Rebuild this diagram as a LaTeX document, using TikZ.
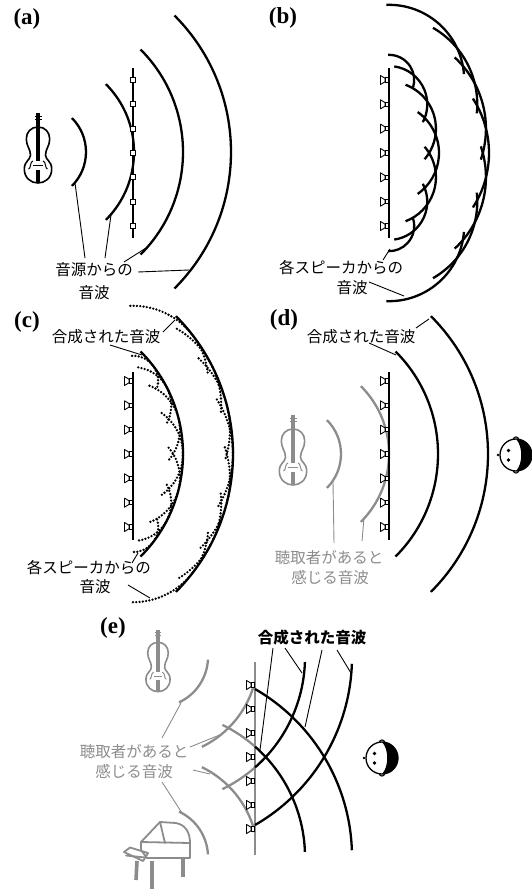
\documentclass[tikz,border=0pt]{standalone}
\usepackage{fontspec}
\setmainfont{Liberation Serif}
\newfontfamily\jpfont{Noto Sans CJK JP}
\definecolor{ghost}{HTML}{8C8C8C}
% a leader line between two named points
\newcommand\leaderline[4][black]{%
  \coordinate (#2-s) at (#3);
  \coordinate (#2-e) at (#4);
  \draw[leader,#1] (#2-s) -- (#2-e);}
% Huygens wavelets of a seven-speaker array fed from a source 95 units behind it;
% the two outermost wavelets run back to the array
\newcommand\wavelets[3]{%
  \foreach \k in {0,...,6}{%
    \pgfmathsetmacro\dy{24.33*(\k-3)}%
    \pgfmathsetmacro\yy{#2+\dy}%
    \pgfmathsetmacro\dst{sqrt(95*95+\dy*\dy)}%
    \pgfmathsetmacro\ph{atan2(\dy,95)}%
    \foreach \R/\del in {145/55,195/33}{%
      \pgfmathsetmacro\rw{\R-\dst}%
      \pgfmathsetmacro\angA{\k==0 ? -92 : \ph-\del}%
      \pgfmathsetmacro\angB{\k==6 ? 92 : \ph+\del}%
      \draw[#3] (#1,\yy) ++(\angA:\rw) arc[start angle=\angA,end angle=\angB,radius=\rw];
    }%
  }%
}
\newcommand\speakers[3][24.33]{%
  \foreach \k in {0,...,6}{\pic at (#2,{#3+#1*(\k-3)}) {spk};}}
\tikzset{
  wave/.style={line width=2.3pt},
  dotwave/.style={line width=2.6pt, line cap=round, dash pattern=on 0pt off 3.3pt},
  leader/.style={line width=0.9pt},
  array/.style={line width=1.1pt},
  tag/.style={font=\bfseries\fontsize{23}{23}\selectfont, inner sep=0pt},
  jp/.style={font=\jpfont\fontsize{15.5}{18}\selectfont, inner sep=0pt},
  jpbold/.style={font=\jpfont\bfseries\fontsize{15.5}{18}\selectfont, inner sep=0pt},
  spk/.pic={
    \draw[line width=0.9pt, line join=round, fill=white]
      (-4,-1.8) -- (-8.5,-4.5) -- (-8.5,4.5) -- (-4,1.8) -- cycle;
    \draw[line width=0.9pt, fill=white] (-1,-2.2) rectangle (-4,2.2);
  },
  mic/.pic={\draw[line width=0.8pt, fill=white] (-2.5,-2.5) rectangle (2.5,2.5);},
  violin/.pic={
    \draw[line width=1.6pt, line join=round]
      (0,-28) .. controls (7,-28) and (11.7,-23) .. (11.7,-16)
      .. controls (11.7,-9) and (7.5,-6) .. (7.5,0)
      .. controls (7.5,5) and (13.7,6) .. (13.7,14)
      .. controls (13.7,23) and (7,28) .. (0,28)
      .. controls (-7,28) and (-13.7,23) .. (-13.7,14)
      .. controls (-13.7,6) and (-7.5,5) .. (-7.5,0)
      .. controls (-7.5,-6) and (-11.7,-9) .. (-11.7,-16)
      .. controls (-11.7,-23) and (-7,-28) .. (0,-28) -- cycle;
    \draw[line width=3.4pt] (0,-42) -- (0,6);
    \draw[line width=3.4pt] (0,15) -- (0,28);
    \draw[line width=1pt] (-3.5,-39) -- (3.5,-39) (-3.5,-35.5) -- (3.5,-35.5);
    \draw[line width=1pt] (-5,10.5) -- (5,10.5);
    \draw[line width=1pt] (-5,6) .. controls (-8,6) and (-7,14) .. (-9.5,14)
                          (5,6) .. controls (8,6) and (7,14) .. (9.5,14);
  },
  head/.pic={
    \draw[line width=1.1pt, fill=white] (-2.6,-15.5) arc[start angle=180,end angle=360,radius=2.6];
    \draw[line width=1.1pt, fill=white] (-2.6,15.5) arc[start angle=180,end angle=0,radius=2.6];
    \draw[line width=1.3pt, fill=white] (0,0) circle[radius=16];
    \fill (0,-16) arc[start angle=-90,end angle=90,radius=16]
      .. controls (7,9) and (7,-9) .. (0,-16);
    \fill (-7.5,-4.5) circle[radius=1.8] (-7.5,5) circle[radius=1.8];
    \fill (-18,0) circle[radius=1.3];
  }
}
\begin{document}
\begin{tikzpicture}[x=1pt,y=-1pt]
\useasboundingbox (0,0) rectangle (532,889);

% ---------------- (a) a violin and its wavefronts crossing a microphone array
\node[tag] (ta) at (27,19) {(a)};
\coordinate (srcA) at (38,152);
\pic at (38,155) {violin};
\foreach \rr in {48,96,145,193}
  \draw[wave] (srcA) ++(-45:\rr) arc[start angle=-45,end angle=45,radius=\rr];
\draw[array] (133,68) -- (133,238);
\foreach \k in {0,...,6} \pic at (133,{153+24.33*(\k-3)}) {mic};
\node[jp] (wa1) at (94,270) {音源からの};
\node[jp] (wa2) at (94,293) {音波};
\leaderline{a1}{85,258}{75,183}
\leaderline{a2}{105,258}{111,215}
\leaderline{a3}{124,262}{146,248}
\leaderline{a4}{138,272}{189,270}

% ---------------- (b) wavelets from each speaker
\node[tag] (tb) at (283,18) {(b)};
\draw[array] (389,68) -- (389,238);
\wavelets{389}{153}{wave}
\speakers{389}{153}
\node[jp] (wb1) at (341,268) {各スピーカからの};
\node[jp] (wb2) at (352,288) {音波};
\leaderline{b1}{383,260}{390,249}
\leaderline{b2}{369,282}{404,296}

% ---------------- (c) wavelets and the synthesised wavefront
\node[tag] (tc) at (27,322) {(c)};
\draw[array] (133,372) -- (133,540);
\wavelets{133}{454}{dotwave}
\coordinate (srcC) at (38,454);
\foreach \rr in {145,195}
  \draw[wave] (srcC) ++(-45:\rr) arc[start angle=-45,end angle=45,radius=\rr];
\speakers{133}{454}
\node[jp] (wc1) at (106,337) {合成された音波};
\leaderline{c1}{163,332}{175,320}
\leaderline{c2}{110,345}{142,355}
\node[jp] (wc2) at (89,568) {各スピーカからの};
\node[jp] (wc3) at (95,587) {音波};
\leaderline{c3}{132,563}{138,553}
\leaderline{c4}{128,585}{150,598}

% ---------------- (d) the listener hears a virtual violin
\node[tag] (td) at (284,320) {(d)};
\coordinate (srcD) at (293,454);
\pic[color=ghost] at (293,457) {violin};
\foreach \rr in {48,96}
  \draw[wave,ghost] (srcD) ++(-45:\rr) arc[start angle=-45,end angle=45,radius=\rr];
\foreach \rr in {145,195}
  \draw[wave] (srcD) ++(-45:\rr) arc[start angle=-45,end angle=45,radius=\rr];
\draw[array] (389,372) -- (389,540);
\speakers{389}{454}
\pic at (516,455) {head};
\node[jp] (wd1) at (361,337) {合成された音波};
\leaderline{d1}{416,328}{429,319}
\leaderline{d2}{369,343}{396,355}
\node[jp,ghost] (wd2) at (329,558) {聴取者があると};
\node[jp,ghost] (wd3) at (330,578) {感じる音波};
\leaderline[ghost]{d3}{334,543}{333,482}
\leaderline[ghost]{d4}{362,541}{364,518}

% ---------------- (e) two virtual sources at once
\node[tag] (te) at (113,628) {(e)};
\coordinate (vsrc) at (158,657);
\coordinate (psrc) at (158,857);
\pic[color=ghost, scale=0.88] at (158,667) {violin};
% grand piano with its lid propped open
\begin{scope}[ghost, line width=1.8pt, line join=round, line cap=round]
  \draw (141,842) -- (160,822) -- (176,823)
        .. controls (186,825) and (190,833) .. (190,843);
  \draw (160,822) -- (165,843);
  \draw (147,858) -- (141,850) -- (141,842) -- (190,843) -- (190,858) -- cycle;
  \draw (124,852) -- (130,847.5) -- (148,853) -- (143,861) -- cycle;
  \draw (126,855.5) -- (145,857.5);
  \draw[line width=3.6pt, line cap=butt] (137,861) -- (136,880);
  \draw[line width=3.6pt, line cap=butt] (152,861) -- (152,889);
  \draw[line width=3.6pt, line cap=butt] (183,858) -- (183,877);
\end{scope}
% wavefronts the listener attributes to the sources
\draw[wave,ghost] (vsrc) ++(3:50) arc[start angle=3,end angle=65,radius=50];
\draw[wave,ghost] (vsrc) ++(14:100) arc[start angle=14,end angle=64,radius=100];
\draw[wave,ghost] (psrc) ++(-3:50) arc[start angle=-3,end angle=-65,radius=50];
\draw[wave,ghost] (psrc) ++(-14:100) arc[start angle=-14,end angle=-64,radius=100];
\draw[wave,ghost] (vsrc) ++(48.7:147) arc[start angle=48.7,end angle=64,radius=147];
\draw[wave,ghost] (psrc) ++(-48.7:147) arc[start angle=-48.7,end angle=-64,radius=147];
\draw[array,ghost,line width=1.8pt] (255,662) -- (255,855);
% synthesised wavefronts
\draw[wave] (vsrc) ++(2:147) arc[start angle=2,end angle=48.7,radius=147];
\draw[wave] (vsrc) ++(2:194) arc[start angle=2,end angle=60,radius=194];
\draw[wave] (psrc) ++(-2:147) arc[start angle=-2,end angle=-48.7,radius=147];
\draw[wave] (psrc) ++(-2:194) arc[start angle=-2,end angle=-60,radius=194];
\speakers[24]{255}{757}
\pic at (382,758) {head};
\node[jpbold] (we1) at (312,638) {合成された音波};
\leaderline{e1}{273,648}{260,750}
\leaderline{e2}{285,648}{302,673}
\leaderline{e3}{322,650}{305,727}
\leaderline{e4}{337,650}{351,673}
\node[jp,ghost] (we2) at (134,752) {聴取者があると};
\node[jp,ghost] (we3) at (134,772) {感じる音波};
\leaderline[ghost]{e5}{162,738}{181,703}
\leaderline[ghost]{e6}{190,747}{222,734}
\leaderline[ghost]{e7}{193,770}{210,774}
\leaderline[ghost]{e8}{162,782}{182,813}
\end{tikzpicture}
\end{document}
